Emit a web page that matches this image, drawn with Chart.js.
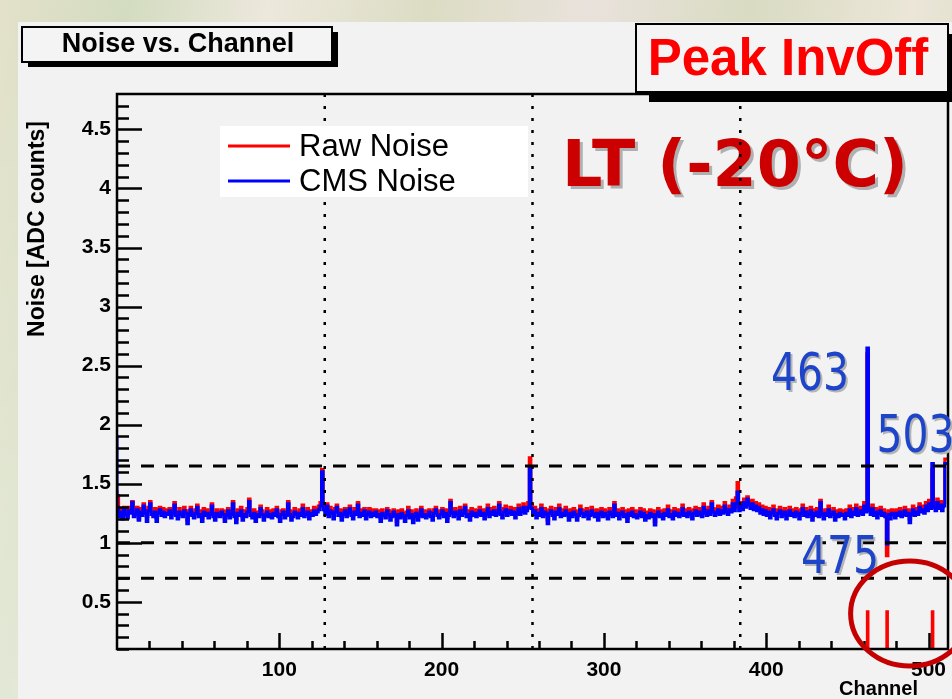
<!DOCTYPE html>
<html>
<head>
<meta charset="utf-8">
<script src="https://cdn.jsdelivr.net/npm/chart.js@4.4.0/dist/chart.umd.min.js"></script>
<style>
  html, body { margin: 0; padding: 0; }
  body {
    width: 952px; height: 699px; overflow: hidden;
    background:
      linear-gradient(180deg, rgba(255,255,255,0.0) 0%, rgba(255,255,255,0.35) 100%),
      linear-gradient(100deg, #e3e1c9 0%, #d3dcc0 12%, #ece8dc 25%, #dcdcc4 40%, #e9e2dc 55%, #d9dbc2 70%, #ebe6d8 85%, #d6d8c0 100%);
  }
  canvas { display: block; }
</style>
</head>
<body>
<canvas id="noiseChart" width="952" height="699"></canvas>
<script>
// Noise vs. Channel, Peak InvOff, LT (-20°C)

const yTickValues = [0.5, 1, 1.5, 2, 2.5, 3, 3.5, 4, 4.5];
const xTickValues = [100, 200, 300, 400, 500];
const chipEdges = [128, 256, 384];
const cutLevels = [1.65, 1.0, 0.7];
const badChannels = [0, 463, 475, 503];
const badFlagLevel = 0.42;

// CMS noise per channel (0..511)
const cmsNoise = [
  1.91,1.30,1.22,1.26,1.20,1.28,1.24,1.21,1.27,1.25,1.34,1.22,1.24,1.28,1.19,1.26,1.23,1.31,1.25,1.18,1.27,1.33,1.24,1.22,1.26,1.18,1.25,1.28,1.23,1.26,1.22,1.25,
  1.24,1.27,1.21,1.25,1.32,1.23,1.20,1.26,1.24,1.22,1.27,1.25,1.16,1.24,1.28,1.23,1.21,1.25,1.30,1.22,1.24,1.18,1.26,1.23,1.25,1.21,1.24,1.31,1.22,1.19,1.25,1.23,
  1.22,1.26,1.24,1.18,1.23,1.27,1.21,1.24,1.33,1.22,1.17,1.25,1.23,1.27,1.19,1.24,1.22,1.26,1.35,1.23,1.21,1.25,1.18,1.24,1.22,1.29,1.24,1.19,1.23,1.26,1.22,1.24,
  1.21,1.25,1.23,1.28,1.22,1.18,1.24,1.26,1.21,1.23,1.33,1.24,1.19,1.22,1.26,1.24,1.21,1.25,1.23,1.29,1.22,1.24,1.26,1.20,1.25,1.23,1.27,1.24,1.26,1.28,1.31,1.60,
  1.28,1.24,1.31,1.22,1.27,1.25,1.20,1.26,1.30,1.23,1.25,1.19,1.24,1.27,1.22,1.25,1.29,1.23,1.20,1.26,1.24,1.32,1.22,1.25,1.23,1.27,1.20,1.24,1.26,1.22,1.25,1.23,
  1.26,1.22,1.24,1.18,1.25,1.23,1.21,1.27,1.24,1.19,1.22,1.26,1.23,1.15,1.24,1.21,1.25,1.22,1.18,1.23,1.27,1.21,1.24,1.17,1.22,1.25,1.19,1.23,1.28,1.22,1.24,1.21,
  1.23,1.26,1.22,1.19,1.25,1.28,1.23,1.21,1.24,1.27,1.22,1.25,1.18,1.23,1.34,1.25,1.22,1.26,1.24,1.20,1.27,1.23,1.25,1.30,1.22,1.24,1.19,1.26,1.23,1.25,1.22,1.24,
  1.27,1.23,1.25,1.20,1.24,1.29,1.22,1.26,1.24,1.27,1.23,1.25,1.32,1.24,1.21,1.26,1.28,1.23,1.25,1.27,1.24,1.26,1.21,1.25,1.29,1.24,1.26,1.30,1.25,1.27,1.30,1.63,
  1.29,1.24,1.27,1.21,1.25,1.23,1.29,1.22,1.26,1.24,1.16,1.25,1.27,1.23,1.20,1.26,1.24,1.29,1.22,1.25,1.23,1.27,1.24,1.19,1.25,1.22,1.26,1.24,1.19,1.23,1.28,1.25,
  1.22,1.24,1.26,1.20,1.23,1.27,1.24,1.22,1.25,1.19,1.24,1.26,1.22,1.25,1.23,1.20,1.26,1.24,1.22,1.32,1.23,1.25,1.20,1.24,1.26,1.22,1.24,1.18,1.25,1.23,1.26,1.22,
  1.24,1.21,1.23,1.26,1.22,1.25,1.19,1.23,1.21,1.25,1.22,1.24,1.15,1.23,1.26,1.22,1.24,1.20,1.25,1.23,1.28,1.22,1.24,1.20,1.26,1.23,1.25,1.22,1.24,1.29,1.23,1.25,
  1.22,1.26,1.24,1.20,1.25,1.27,1.23,1.26,1.24,1.22,1.30,1.25,1.23,1.27,1.24,1.33,1.26,1.23,1.25,1.28,1.24,1.27,1.25,1.31,1.26,1.24,1.28,1.26,1.33,1.27,1.33,1.43,
  1.27,1.31,1.28,1.34,1.30,1.37,1.32,1.29,1.33,1.28,1.31,1.27,1.30,1.25,1.28,1.24,1.27,1.23,1.26,1.21,1.25,1.28,1.23,1.20,1.25,1.27,1.22,1.24,1.26,1.20,1.24,1.27,
  1.23,1.25,1.22,1.26,1.24,1.20,1.25,1.29,1.23,1.26,1.22,1.24,1.27,1.19,1.25,1.23,1.26,1.22,1.34,1.24,1.20,1.25,1.23,1.28,1.22,1.24,1.26,1.19,1.24,1.22,1.25,1.23,
  1.24,1.20,1.25,1.23,1.28,1.22,1.26,1.24,1.29,1.23,1.25,1.27,1.24,1.31,1.26,2.65,1.27,1.24,1.29,1.23,1.26,1.21,1.25,1.27,1.23,1.25,1.22,0.99,1.24,1.20,1.25,1.24,
  1.21,1.25,1.23,1.26,1.22,1.24,1.27,1.23,1.25,1.17,1.24,1.28,1.23,1.26,1.24,1.30,1.26,1.28,1.25,1.31,1.27,1.33,1.29,1.67,1.30,1.27,1.34,1.29,1.32,1.27,1.31,1.67
];

// Raw noise per channel (0..511)
const rawNoise = [
  1.44,1.40,1.25,1.29,1.24,1.30,1.27,1.23,1.30,1.27,1.35,1.25,1.27,1.30,1.21,1.29,1.26,1.33,1.28,1.22,1.30,1.35,1.26,1.25,1.29,1.21,1.28,1.30,1.26,1.29,1.24,1.28,
  1.27,1.29,1.24,1.28,1.34,1.25,1.23,1.29,1.26,1.25,1.30,1.27,1.19,1.27,1.30,1.26,1.24,1.28,1.32,1.25,1.27,1.21,1.29,1.25,1.28,1.24,1.26,1.33,1.25,1.22,1.28,1.26,
  1.25,1.28,1.27,1.21,1.26,1.29,1.24,1.27,1.35,1.25,1.20,1.28,1.25,1.30,1.22,1.27,1.24,1.29,1.37,1.26,1.23,1.28,1.21,1.26,1.25,1.31,1.27,1.22,1.25,1.29,1.24,1.27,
  1.24,1.28,1.25,1.30,1.25,1.21,1.27,1.28,1.24,1.26,1.35,1.27,1.22,1.25,1.29,1.26,1.24,1.28,1.25,1.32,1.25,1.27,1.29,1.23,1.27,1.26,1.30,1.27,1.29,1.31,1.34,1.62,
  1.31,1.27,1.33,1.25,1.30,1.27,1.23,1.29,1.32,1.26,1.28,1.22,1.27,1.29,1.25,1.28,1.31,1.26,1.23,1.29,1.27,1.34,1.25,1.28,1.26,1.29,1.23,1.27,1.29,1.25,1.28,1.26,
  1.28,1.25,1.27,1.21,1.28,1.25,1.24,1.29,1.27,1.22,1.25,1.28,1.26,1.18,1.27,1.24,1.28,1.25,1.21,1.26,1.30,1.24,1.27,1.20,1.25,1.28,1.22,1.26,1.30,1.25,1.27,1.24,
  1.26,1.28,1.25,1.22,1.28,1.30,1.26,1.24,1.27,1.29,1.25,1.28,1.21,1.26,1.36,1.28,1.25,1.29,1.27,1.23,1.30,1.26,1.28,1.32,1.25,1.27,1.22,1.29,1.26,1.28,1.25,1.27,
  1.30,1.26,1.28,1.23,1.27,1.32,1.25,1.29,1.27,1.30,1.26,1.28,1.34,1.27,1.24,1.29,1.31,1.26,1.28,1.30,1.27,1.29,1.24,1.28,1.32,1.27,1.29,1.33,1.28,1.30,1.34,1.72,
  1.32,1.27,1.30,1.24,1.28,1.26,1.32,1.25,1.29,1.27,1.19,1.28,1.30,1.26,1.23,1.29,1.27,1.32,1.25,1.28,1.26,1.30,1.27,1.22,1.28,1.25,1.29,1.27,1.22,1.26,1.31,1.28,
  1.25,1.27,1.29,1.23,1.26,1.30,1.27,1.25,1.28,1.22,1.27,1.29,1.25,1.28,1.26,1.23,1.29,1.27,1.25,1.34,1.26,1.28,1.23,1.27,1.29,1.25,1.27,1.21,1.28,1.26,1.29,1.25,
  1.27,1.24,1.26,1.29,1.25,1.28,1.22,1.26,1.24,1.28,1.25,1.27,1.18,1.26,1.29,1.25,1.27,1.23,1.28,1.26,1.31,1.25,1.27,1.23,1.29,1.26,1.28,1.25,1.27,1.32,1.26,1.28,
  1.25,1.29,1.27,1.23,1.28,1.30,1.26,1.29,1.27,1.25,1.33,1.28,1.26,1.30,1.27,1.35,1.29,1.26,1.28,1.31,1.27,1.30,1.28,1.34,1.29,1.27,1.31,1.29,1.36,1.30,1.38,1.51,
  1.30,1.34,1.31,1.37,1.33,1.39,1.35,1.32,1.36,1.31,1.34,1.30,1.33,1.28,1.31,1.27,1.30,1.26,1.29,1.24,1.28,1.31,1.26,1.23,1.28,1.30,1.25,1.27,1.29,1.23,1.27,1.30,
  1.26,1.28,1.25,1.29,1.27,1.23,1.28,1.32,1.26,1.29,1.25,1.27,1.30,1.22,1.28,1.26,1.29,1.25,1.36,1.27,1.23,1.28,1.26,1.31,1.25,1.27,1.29,1.22,1.27,1.25,1.28,1.26,
  1.27,1.23,1.28,1.26,1.31,1.25,1.29,1.27,1.32,1.26,1.28,1.30,1.27,1.34,1.29,2.60,1.30,1.27,1.32,1.26,1.29,1.24,1.28,1.30,1.26,1.28,1.25,0.89,1.27,1.23,1.28,1.27,
  1.24,1.28,1.26,1.29,1.25,1.27,1.30,1.26,1.28,1.20,1.27,1.31,1.26,1.29,1.27,1.33,1.29,1.31,1.28,1.34,1.30,1.36,1.32,1.62,1.33,1.30,1.37,1.32,1.35,1.30,1.34,1.71
];

// text annotations, placed in channel / noise units
const channelNotes = [
  { text: '463', ch: 451, value: 2.29, align: 'right' },
  { text: '503', ch: 468, value: 1.77, align: 'left' },
  { text: '475', ch: 421.5, value: 0.74, align: 'left' }
];

const Y_MIN = 0.1, Y_MAX = 4.8, X_MIN = 0, X_MAX = 512;
const FONT = "'Liberation Sans', Arial, Helvetica, sans-serif";

// histogram -> step line points (bin low edges + closing edge)
function histPoints(values) {
  const pts = values.map((v, ch) => ({ x: ch, y: v }));
  pts.push({ x: values.length, y: values[values.length - 1] });
  return pts;
}

const badFlags = cmsNoise.map((v, ch) => badChannels.includes(ch) ? badFlagLevel : 0);

const histStyle = { pointRadius: 0, borderWidth: 3, stepped: 'after', fill: false, tension: 0 };

const datasets = [
  ...chipEdges.map(ch => ({
    label: 'chip ' + ch,
    data: [{ x: ch, y: Y_MIN }, { x: ch, y: Y_MAX }],
    borderColor: '#000', borderWidth: 2.5, borderDash: [3, 9], pointRadius: 0, order: 0
  })),
  ...cutLevels.map(lv => ({
    label: 'cut ' + lv,
    data: [{ x: X_MIN, y: lv }, { x: X_MAX, y: lv }],
    borderColor: '#000', borderWidth: 3, borderDash: [13, 11], pointRadius: 0, order: 0
  })),
  { label: 'CMS Noise', data: histPoints(cmsNoise), borderColor: '#0000ff', order: 1, ...histStyle },
  { label: 'Raw Noise', data: histPoints(rawNoise), borderColor: '#ff0000', order: 2, ...histStyle },
  { label: 'bad', data: histPoints(badFlags), borderColor: '#ff0000', order: 3, ...histStyle, borderWidth: 2 }
];

function shadowBox(ctx, x, y, w, h, off) {
  ctx.fillStyle = '#000';
  ctx.fillRect(x + off[0], y + off[1], w, h);
  ctx.fillStyle = '#f4f4f4';
  ctx.fillRect(x, y, w, h);
  ctx.strokeStyle = '#000';
  ctx.lineWidth = 2;
  ctx.strokeRect(x, y, w, h);
}

const rootStyle = {
  id: 'rootStyle',
  beforeDraw(chart) {
    const ctx = chart.ctx;
    ctx.save();
    ctx.fillStyle = '#f2f2f2';
    ctx.fillRect(18, 22, 952 - 18, 699 - 22);
    ctx.restore();
  },
  beforeDatasetsDraw(chart) {
    const ctx = chart.ctx;
    ctx.save();
    ctx.font = "bold 64px 'DejaVu Sans', sans-serif";
    ctx.textAlign = 'left';
    ctx.textBaseline = 'alphabetic';
    ctx.fillStyle = '#b0b0b0';
    ctx.fillText('LT (-20°C)', 565, 189, 346);
    ctx.fillStyle = '#cc0000';
    ctx.fillText('LT (-20°C)', 562, 186, 346);
    ctx.restore();
  },
  afterDatasetsDraw(chart) {
    const { ctx, chartArea: a, scales: { x, y } } = chart;
    ctx.save();
    ctx.strokeStyle = '#000';
    ctx.lineWidth = 2.5;
    ctx.beginPath();
    for (let k = 1; k <= 47; k++) {
      const py = Math.round(y.getPixelForValue(k / 10)) + 0.5;
      const len = k % 5 === 0 ? 25 : 12;
      ctx.moveTo(a.left, py);
      ctx.lineTo(a.left + len, py);
    }
    for (let ch = 20; ch < X_MAX; ch += 20) {
      const px = Math.round(x.getPixelForValue(ch)) + 0.5;
      const len = ch % 100 === 0 ? 16 : 8;
      ctx.moveTo(px, a.bottom);
      ctx.lineTo(px, a.bottom - len);
    }
    ctx.stroke();
    ctx.lineWidth = 2.5;
    ctx.strokeRect(a.left, a.top, a.right - a.left, a.bottom - a.top);
    ctx.restore();
  },
  afterDraw(chart) {
    const { ctx, chartArea: a, scales: { x, y } } = chart;
    ctx.save();

    // axis titles
    ctx.fillStyle = '#000';
    ctx.font = 'bold 20px ' + FONT;
    ctx.textAlign = 'right';
    ctx.textBaseline = 'alphabetic';
    ctx.fillText('Channel', 918, 695);
    ctx.save();
    ctx.translate(44, 121);
    ctx.rotate(-Math.PI / 2);
    ctx.font = 'bold 23px ' + FONT;
    ctx.textAlign = 'right';
    ctx.fillText('Noise [ADC counts]', 0, 0);
    ctx.restore();

    // title pave
    shadowBox(ctx, 22, 27, 310, 35, [6, 5]);
    ctx.fillStyle = '#000';
    ctx.font = 'bold 27px ' + FONT;
    ctx.textAlign = 'center';
    ctx.textBaseline = 'middle';
    ctx.fillText('Noise vs. Channel', 178, 45);

    // Peak InvOff pave
    shadowBox(ctx, 636, 24, 312, 68, [13, 10]);
    ctx.fillStyle = '#ff0000';
    ctx.font = 'bold 51px ' + FONT;
    ctx.textBaseline = 'alphabetic';
    ctx.fillText('Peak InvOff', 788, 75);

    // legend
    ctx.fillStyle = '#ffffff';
    ctx.fillRect(220, 126, 308, 71);
    const entries = [['Raw Noise', '#ff0000', 146], ['CMS Noise', '#0000ff', 181]];
    ctx.font = '31px ' + FONT;
    ctx.textAlign = 'left';
    ctx.textBaseline = 'middle';
    entries.forEach(([label, color, ly]) => {
      ctx.strokeStyle = color;
      ctx.lineWidth = 3;
      ctx.beginPath();
      ctx.moveTo(228, ly);
      ctx.lineTo(290, ly);
      ctx.stroke();
      ctx.fillStyle = '#000';
      ctx.fillText(label, 299, ly + 1);
    });

    // channel notes
    ctx.font = "52px 'DejaVu Sans', sans-serif";
    ctx.textBaseline = 'alphabetic';
    channelNotes.forEach(n => {
      const px = x.getPixelForValue(n.ch), py = y.getPixelForValue(n.value);
      ctx.textAlign = n.align;
      ctx.fillStyle = '#b4b4b4';
      ctx.fillText(n.text, px + 2, py + 2, 78);
      ctx.fillStyle = '#1d44c9';
      ctx.fillText(n.text, px, py, 78);
    });

    // ring round the bad channels
    const cx = x.getPixelForValue(488.5), cy = y.getPixelForValue(0.4);
    const rx = x.getPixelForValue(488.5 + 36.5) - cx;
    const ry = cy - y.getPixelForValue(0.4 + 0.445);
    ctx.strokeStyle = '#c40000';
    ctx.lineWidth = 5;
    ctx.beginPath();
    ctx.ellipse(cx, cy, rx, ry, 0, 0, Math.PI * 2);
    ctx.stroke();

    ctx.restore();
  }
};

new Chart(document.getElementById('noiseChart'), {
  type: 'line',
  data: { datasets },
  options: {
    responsive: false,
    animation: false,
    events: [],
    layout: { padding: { top: 94, right: 4, left: 0, bottom: 0 } },
    plugins: { legend: { display: false }, tooltip: { enabled: false } },
    scales: {
      x: {
        type: 'linear', min: X_MIN, max: X_MAX,
        grid: { display: false, drawTicks: false },
        border: { display: false },
        afterBuildTicks: s => { s.ticks = xTickValues.map(v => ({ value: v })); },
        afterFit: s => { s.height = 50; s.paddingLeft = 0; s.paddingRight = 0; },
        ticks: { color: '#000', padding: 9, maxRotation: 0, autoSkip: false,
                 font: { family: FONT, weight: 'bold', size: 21 } }
      },
      y: {
        type: 'linear', min: Y_MIN, max: Y_MAX,
        grid: { display: false, drawTicks: false },
        border: { display: false },
        afterBuildTicks: s => { s.ticks = yTickValues.map(v => ({ value: v })); },
        afterFit: s => { s.width = 117; s.paddingTop = 0; s.paddingBottom = 0; },
        ticks: { color: '#000', padding: 6, autoSkip: false,
                 callback: v => String(v),
                 font: { family: FONT, weight: 'bold', size: 21 } }
      }
    }
  },
  plugins: [rootStyle]
});
</script>
</body>
</html>
